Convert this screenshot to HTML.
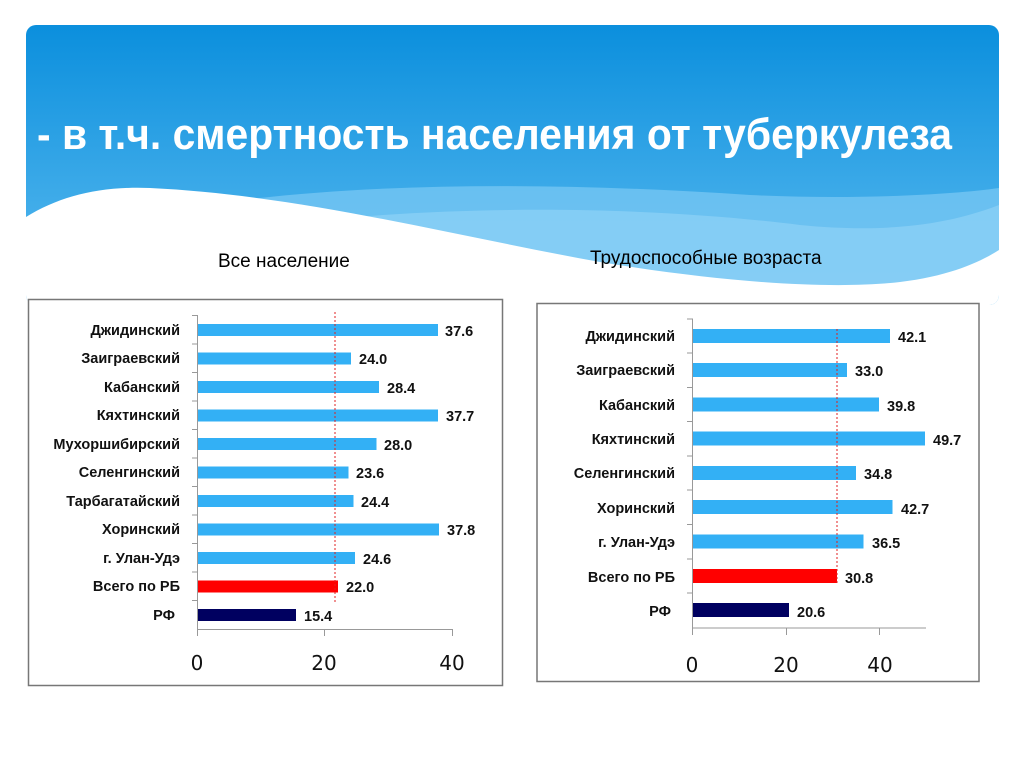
<!DOCTYPE html>
<html><head><meta charset="utf-8"><style>
html,body{margin:0;padding:0;background:#fff;}
svg{display:block;}
</style></head><body>
<svg width="1024" height="768" viewBox="0 0 1024 768" xmlns="http://www.w3.org/2000/svg">
<defs>
<linearGradient id="bg" x1="0" y1="0" x2="0" y2="1">
<stop offset="0" stop-color="#0b8fdd"/>
<stop offset="1" stop-color="#5dbcf0"/>
</linearGradient>
<clipPath id="hc"><rect x="26" y="25" width="973" height="280" rx="10"/></clipPath>
</defs>
<g clip-path="url(#hc)">
<rect x="26" y="25" width="973" height="280" fill="url(#bg)"/>
<path d="M26,250 C200,180 500,178 750,195 C850,200 950,195 999,188 L999,305 L26,305 Z" fill="#74c6f3" opacity="0.8"/>
<path d="M26,270 C300,200 600,200 800,225 C900,235 960,220 999,205 L999,305 L26,305 Z" fill="#8fd2f6" opacity="0.7"/>
<path d="M26,217 C60,196 100,186 150,188 C300,195 450,235 600,262 C720,282 830,290 900,282 C950,276 980,262 999,250 L999,305 L26,305 Z" fill="#fff"/>
</g>
<text x="37" y="149" fill="#fff" font-family="Liberation Sans Narrow, Liberation Sans, sans-serif" font-weight="bold" font-size="44" textLength="915" lengthAdjust="spacingAndGlyphs">- в т.ч. смертность населения от туберкулеза</text>
<text x="218" y="267" font-family="Liberation Sans, sans-serif" font-size="19" fill="#000">Все население</text>
<text x="590" y="264" font-family="Liberation Sans, sans-serif" font-size="19" fill="#000">Трудоспособные возраста</text>

<!-- Left chart -->
<rect x="28.5" y="299.5" width="474" height="386" fill="#fff" stroke="#777" stroke-width="1.5"/>
<g font-family="Liberation Sans, sans-serif" font-weight="bold" font-size="14.5" fill="#111">
<line x1="197.5" y1="315" x2="197.5" y2="630" stroke="#999"/>
<line x1="197" y1="629.5" x2="452" y2="629.5" stroke="#999"/>
<line x1="324.5" y1="629" x2="324.5" y2="636" stroke="#999"/>
<line x1="452.5" y1="629" x2="452.5" y2="636" stroke="#999"/>
<line x1="197.5" y1="629" x2="197.5" y2="636" stroke="#999"/>
<g stroke="#999">
<line x1="192" y1="315.5" x2="198" y2="315.5"/><line x1="192" y1="344" x2="198" y2="344"/><line x1="192" y1="372.5" x2="198" y2="372.5"/><line x1="192" y1="401" x2="198" y2="401"/><line x1="192" y1="429.5" x2="198" y2="429.5"/><line x1="192" y1="458" x2="198" y2="458"/><line x1="192" y1="486.5" x2="198" y2="486.5"/><line x1="192" y1="515" x2="198" y2="515"/><line x1="192" y1="543.5" x2="198" y2="543.5"/><line x1="192" y1="572" x2="198" y2="572"/><line x1="192" y1="600.5" x2="198" y2="600.5"/>
</g>
<g fill="#33b0f5">
<rect x="198" y="324" width="240" height="12"/>
<rect x="198" y="352.5" width="153" height="12"/>
<rect x="198" y="381" width="181" height="12"/>
<rect x="198" y="409.5" width="240" height="12"/>
<rect x="198" y="438" width="178.5" height="12"/>
<rect x="198" y="466.5" width="150.5" height="12"/>
<rect x="198" y="495" width="155.5" height="12"/>
<rect x="198" y="523.5" width="241" height="12"/>
<rect x="198" y="552" width="157" height="12"/>
</g>
<rect x="198" y="580.5" width="140" height="12" fill="#ff0000"/>
<rect x="198" y="609" width="98" height="12" fill="#000060"/>
<line x1="335" y1="312" x2="335" y2="602" stroke="#e02020" stroke-dasharray="2,2"/>
<g text-anchor="end">
<text x="180" y="335">Джидинский</text><text x="180" y="363">Заиграевский</text><text x="180" y="392">Кабанский</text><text x="180" y="420">Кяхтинский</text><text x="180" y="449">Мухоршибирский</text><text x="180" y="477">Селенгинский</text><text x="180" y="506">Тарбагатайский</text><text x="180" y="534">Хоринский</text><text x="180" y="563">г. Улан-Удэ</text><text x="180" y="591">Всего по РБ</text><text x="175" y="620">РФ</text>
</g>
<text x="445" y="336">37.6</text><text x="359" y="364">24.0</text><text x="387" y="393">28.4</text><text x="446" y="421">37.7</text><text x="384" y="450">28.0</text><text x="356" y="478">23.6</text><text x="361" y="507">24.4</text><text x="447" y="535">37.8</text><text x="363" y="564">24.6</text><text x="346" y="592">22.0</text><text x="304" y="621">15.4</text>
</g>
<g font-family="DejaVu Sans, sans-serif" font-size="20" fill="#111" text-anchor="middle">
<text x="197" y="670">0</text><text x="324" y="670">20</text><text x="452" y="670">40</text>
</g>

<!-- Right chart -->
<rect x="537" y="303.5" width="442" height="378" fill="#fff" stroke="#777" stroke-width="1.5"/>
<g font-family="Liberation Sans, sans-serif" font-weight="bold" font-size="14.5" fill="#111">
<line x1="692.5" y1="319" x2="692.5" y2="628" stroke="#999"/>
<line x1="692" y1="628" x2="926" y2="628" stroke="#999"/>
<line x1="692.5" y1="628" x2="692.5" y2="635" stroke="#999"/>
<line x1="786.5" y1="628" x2="786.5" y2="635" stroke="#999"/>
<line x1="879.5" y1="628" x2="879.5" y2="635" stroke="#999"/>
<g stroke="#999">
<line x1="687" y1="319" x2="693" y2="319"/><line x1="687" y1="353" x2="693" y2="353"/><line x1="687" y1="387.5" x2="693" y2="387.5"/><line x1="687" y1="421.5" x2="693" y2="421.5"/><line x1="687" y1="456" x2="693" y2="456"/><line x1="687" y1="490" x2="693" y2="490"/><line x1="687" y1="524.5" x2="693" y2="524.5"/><line x1="687" y1="559" x2="693" y2="559"/><line x1="687" y1="593" x2="693" y2="593"/>
</g>
<g fill="#33b0f5">
<rect x="693" y="329" width="197" height="14"/>
<rect x="693" y="363" width="154" height="14"/>
<rect x="693" y="397.5" width="186" height="14"/>
<rect x="693" y="431.5" width="232" height="14"/>
<rect x="693" y="466" width="163" height="14"/>
<rect x="693" y="500" width="199.5" height="14"/>
<rect x="693" y="534.5" width="170.5" height="14"/>
</g>
<rect x="693" y="569" width="144" height="14" fill="#ff0000"/>
<rect x="693" y="603" width="96" height="14" fill="#000060"/>
<line x1="837" y1="329" x2="837" y2="583" stroke="#e02020" stroke-dasharray="2,2"/>
<g text-anchor="end">
<text x="675" y="341">Джидинский</text><text x="675" y="375">Заиграевский</text><text x="675" y="410">Кабанский</text><text x="675" y="444">Кяхтинский</text><text x="675" y="478">Селенгинский</text><text x="675" y="513">Хоринский</text><text x="675" y="547">г. Улан-Удэ</text><text x="675" y="582">Всего по РБ</text><text x="671" y="616">РФ</text>
</g>
<text x="898" y="342">42.1</text><text x="855" y="376">33.0</text><text x="887" y="411">39.8</text><text x="933" y="445">49.7</text><text x="864" y="479">34.8</text><text x="901" y="514">42.7</text><text x="872" y="548">36.5</text><text x="845" y="583">30.8</text><text x="797" y="617">20.6</text>
</g>
<g font-family="DejaVu Sans, sans-serif" font-size="20" fill="#111" text-anchor="middle">
<text x="692" y="672">0</text><text x="786" y="672">20</text><text x="880" y="672">40</text>
</g>
</svg>
</body></html>
